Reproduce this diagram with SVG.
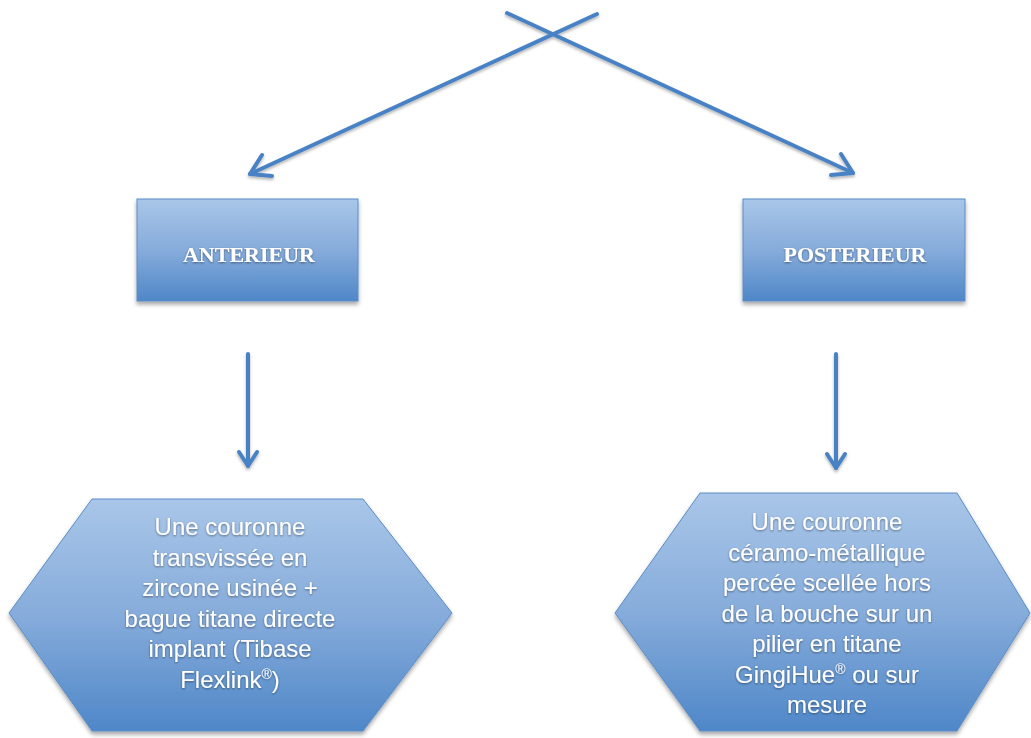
<svg xmlns="http://www.w3.org/2000/svg" width="1031" height="738" viewBox="0 0 1031 738">
<defs>
<linearGradient id="g" x1="0" y1="0" x2="0" y2="1">
<stop offset="0" stop-color="#a9c6e8"/>
<stop offset="0.5" stop-color="#86acdb"/>
<stop offset="1" stop-color="#4f87c8"/>
</linearGradient>
<filter id="sh" x="-10%" y="-10%" width="120%" height="130%">
<feDropShadow dx="0" dy="3" stdDeviation="2" flood-color="#000" flood-opacity="0.35"/>
</filter>
<filter id="lsh" filterUnits="userSpaceOnUse" x="0" y="0" width="1031" height="738">
<feDropShadow dx="0" dy="2" stdDeviation="1.5" flood-color="#000" flood-opacity="0.3"/>
</filter>
<filter id="ts" x="-10%" y="-10%" width="120%" height="130%">
<feDropShadow dx="0" dy="1" stdDeviation="0.8" flood-color="#000" flood-opacity="0.45"/>
</filter>
</defs>
<style>
.box{fill:url(#g);stroke:#5a8cc8;stroke-width:1;filter:url(#sh)}
.con{stroke:#4a82c4;stroke-width:4;fill:none;stroke-linecap:round;stroke-linejoin:round}
.t1{font-family:"Liberation Serif",serif;font-weight:bold;font-size:22px;fill:#fff;text-anchor:middle;filter:url(#ts)}
.t2{font-family:"Liberation Sans",Arial,sans-serif;font-size:24px;fill:#fff;text-anchor:middle;filter:url(#ts)}
</style>
<rect width="1031" height="738" fill="#fff"/>
<g id="connectors" filter="url(#lsh)">
<path class="con" d="M597,14 L250,174"/>
<path class="con" d="M262,155 L250,174 L272,176"/>
<path class="con" d="M507,13 L853,173"/>
<path class="con" d="M831,175 L853,173 L841,154"/>
<path class="con" d="M248,354 L248,466"/>
<path class="con" d="M239,452 L248,466 L257,452"/>
<path class="con" d="M836,354 L836,468"/>
<path class="con" d="M827,454 L836,468 L845,454"/>
</g>
<g id="anterieur">
<rect class="box" x="137" y="199" width="221" height="102"/>
<text class="t1" x="249" y="262">ANTERIEUR</text>
</g>
<g id="posterieur">
<rect class="box" x="743" y="199" width="222" height="102"/>
<text class="t1" x="855" y="262">POSTERIEUR</text>
</g>
<g id="hex-anterieur">
<polygon class="box" points="92,499 363,499 452,613 363,731 92,731 9,613"/>
<text class="t2" x="230" y="535">Une couronne</text>
<text class="t2" x="230" y="565.5">transvissée en</text>
<text class="t2" x="230" y="596">zircone usinée +</text>
<text class="t2" x="230" y="626.5">bague titane directe</text>
<text class="t2" x="230" y="657">implant (Tibase</text>
<text class="t2" x="230" y="687.5">Flexlink<tspan font-size="14" dy="-9">®</tspan><tspan dy="9">)</tspan></text>
</g>
<g id="hex-posterieur">
<polygon class="box" points="700,493 957,493 1030,613 957,731 700,731 615,613"/>
<text class="t2" x="827" y="530">Une couronne</text>
<text class="t2" x="827" y="560.5">céramo-métallique</text>
<text class="t2" x="827" y="591">percée scellée hors</text>
<text class="t2" x="827" y="621.5">de la bouche sur un</text>
<text class="t2" x="827" y="652">pilier en titane</text>
<text class="t2" x="827" y="682.5">GingiHue<tspan font-size="14" dy="-9">®</tspan><tspan dy="9"> ou sur</tspan></text>
<text class="t2" x="827" y="713">mesure</text>
</g>
</svg>
